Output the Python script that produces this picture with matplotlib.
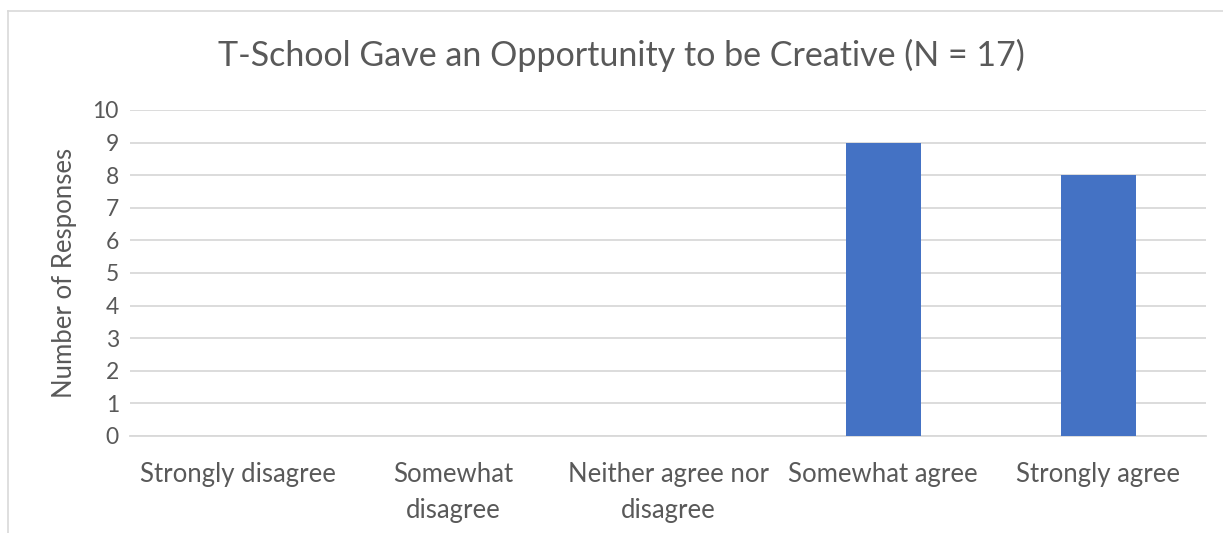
import matplotlib
matplotlib.use("Agg")
import matplotlib.pyplot as plt
from matplotlib.lines import Line2D
import numpy as np

categories = ["Strongly disagree", "Somewhat\ndisagree", "Neither agree nor\ndisagree",
              "Somewhat agree", "Strongly agree"]
responses = [0, 0, 0, 9, 8]
yticks = list(range(0, 11))

GRAY = "#595959"
GRID = "#d9d9d9"
BLUE = "#4472C4"

plt.rcParams["font.family"] = ["Lato", "DejaVu Sans"]

W, H = 1223, 533
fig = plt.figure(figsize=(W / 100, H / 100), dpi=100)
ax = fig.add_axes([130 / W, 1 - 436 / H, (1206 - 130) / W, (436 - 110) / H])

x = np.arange(len(categories))
ax.bar(x, responses, width=0.35, color=BLUE, zorder=3)
ax.set_xlim(-0.5, len(categories) - 0.5)
ax.set_ylim(0, 10)
ax.set_yticks(yticks)
ax.yaxis.grid(True, color=GRID, lw=1.3, zorder=0)
ax.set_axisbelow(True)
for s in ["top", "right", "left"]:
    ax.spines[s].set_visible(False)
ax.spines["bottom"].set_color(GRID)
ax.spines["bottom"].set_linewidth(1.3)
ax.tick_params(axis="both", length=0, colors=GRAY)
ax.tick_params(axis="y", pad=8, labelsize=16.5)
ax.tick_params(axis="x", pad=19, labelsize=18.5)
ax.set_xticks(x)
ax.set_xticklabels(categories, linespacing=1.55)
ax.set_ylabel("Number of Responses", color=GRAY, fontsize=18.5, labelpad=11)

fig.text(621 / W, 1 - 55 / H, "T-School Gave an Opportunity to be Creative (N = 17)",
         ha="center", va="center", color=GRAY, fontsize=24.5)

# outer chart frame (partially cropped in the source)
fig.add_artist(Line2D([8 / W, 8 / W], [0, 1 - 11 / H], color=GRID, lw=1.2, transform=fig.transFigure))
fig.add_artist(Line2D([8 / W, 1], [1 - 11 / H, 1 - 11 / H], color=GRID, lw=1.2, transform=fig.transFigure))

fig.savefig("out.png", dpi=100)
